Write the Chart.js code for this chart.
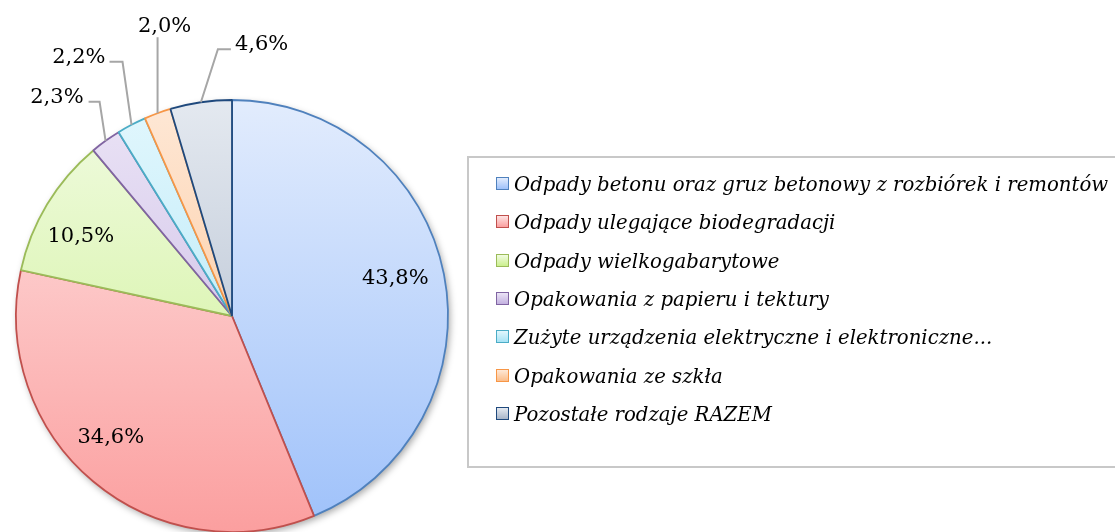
<!DOCTYPE html>
<html>
<head>
<meta charset="utf-8">
<script src="https://cdn.jsdelivr.net/npm/chart.js"></script>
<style>
  html, body { margin: 0; padding: 0; background: #fff; overflow: hidden; }
  #wrap { position: relative; width: 1115px; height: 532px; overflow: hidden; }
  #pie { position: absolute; left: 0; top: 0; }
  #legend {
    position: absolute; left: 467px; top: 156px; width: 680px; height: 312px;
    border: 2px solid #c8c8c8; box-sizing: border-box;
  }
  .item { position: absolute; left: 27px; height: 38px; line-height: 38px; white-space: nowrap;
    font-family: 'DejaVu Serif', serif; font-style: italic; font-size: 19.7px; color: #000; }
  .mark { display: inline-block; width: 11px; height: 11px; border: 1.5px solid; vertical-align: middle;
    margin-right: 5px; position: relative; top: -2px; }
</style>
</head>
<body>
<div id="wrap">
  <canvas id="pie" width="1115" height="560"></canvas>
  <div id="legend"></div>
</div>
<script>
const categories = [
  'Odpady betonu oraz gruz betonowy z rozbiórek i remontów',
  'Odpady ulegające biodegradacji',
  'Odpady wielkogabarytowe',
  'Opakowania z papieru i tektury',
  'Zużyte urządzenia elektryczne i elektroniczne...',
  'Opakowania ze szkła',
  'Pozostałe rodzaje RAZEM'
]
const shares = [43.8, 34.6, 10.5, 2.3, 2.2, 2.0, 4.6]

const edgeColors = ['#4f81bd', '#c0504d', '#9bbb59', '#8064a2', '#4bacc6', '#f79646', '#1f497d']
const fillTop = ['#e2ecfd', '#fee3e3', '#f1fbe2', '#ebe4f6', '#e2f7fd', '#fee8d6', '#e4e9f0']
const fillBottom = ['#9ec1fa', '#fb9f9f', '#cbf08e', '#c3b1e0', '#a6e3f5', '#fbbd8a', '#a8b5c8']

// small nudges for the labels inside the slices (Excel moved them a bit)
const insideNudge = [[-2, -5], [-13, -8], [-7, 8]]
// where the outside labels go, relative to the slice's outer edge
const outsideLabels = [
  null, null, null,
  { elbow: [-6, -39], end: [-17, -39], text: [-22, -43], align: 'right' },
  { elbow: [-9, -63], end: [-22, -63], text: [-26, -67], align: 'right' },
  { elbow: [0, -76], end: null, text: [7, -87], align: 'center' },
  { elbow: [17, -53], end: [30, -53], text: [34, -58], align: 'left' }
]

const pieShadow = {
  id: 'pieShadow',
  beforeDatasetsDraw(chart) {
    const arc = chart.getDatasetMeta(0).data[0]
    if (!arc) return
    const ctx = chart.ctx
    ctx.save()
    ctx.shadowColor = 'rgba(0,0,0,0.35)'
    ctx.shadowBlur = 7
    ctx.shadowOffsetX = 2
    ctx.shadowOffsetY = 3
    ctx.fillStyle = '#fff'
    ctx.beginPath()
    ctx.arc(arc.x, arc.y, arc.outerRadius, 0, Math.PI * 2)
    ctx.fill()
    ctx.restore()
  }
}

const sliceLabels = {
  id: 'sliceLabels',
  afterDatasetsDraw(chart) {
    const ctx = chart.ctx
    const meta = chart.getDatasetMeta(0)
    const values = chart.data.datasets[0].data
    ctx.save()
    ctx.font = '21px "DejaVu Serif", serif'
    ctx.fillStyle = '#000'
    ctx.textBaseline = 'middle'
    meta.data.forEach((arc, i) => {
      const txt = values[i].toFixed(1).replace('.', ',') + '%'
      const mid = (arc.startAngle + arc.endAngle) / 2
      const out = outsideLabels[i]
      if (!out) {
        const r = arc.outerRadius * 0.78
        const n = insideNudge[i] || [0, 0]
        ctx.textAlign = 'center'
        ctx.fillText(txt, arc.x + Math.cos(mid) * r + n[0], arc.y + Math.sin(mid) * r + n[1])
        return
      }
      const sx = arc.x + Math.cos(mid) * arc.outerRadius
      const sy = arc.y + Math.sin(mid) * arc.outerRadius
      ctx.strokeStyle = '#a6a6a6'
      ctx.lineWidth = 2
      ctx.beginPath()
      ctx.moveTo(sx, sy)
      ctx.lineTo(sx + out.elbow[0], sy + out.elbow[1])
      if (out.end) ctx.lineTo(sx + out.end[0], sy + out.end[1])
      ctx.stroke()
      ctx.textAlign = out.align
      ctx.fillText(txt, sx + out.text[0], sy + out.text[1])
    })
    ctx.restore()
  }
}

const chart = new Chart(document.getElementById('pie'), {
  type: 'pie',
  data: {
    labels: categories,
    datasets: [
      {
        data: shares,
        backgroundColor: (c) => {
          const area = c.chart.chartArea
          if (!area) return fillTop[c.dataIndex]
          const g = c.chart.ctx.createLinearGradient(0, area.top, 0, area.bottom)
          g.addColorStop(0, fillTop[c.dataIndex])
          g.addColorStop(1, fillBottom[c.dataIndex])
          return g
        },
        borderColor: edgeColors,
        borderWidth: 1.8,
        radius: 216
      }
    ]
  },
  options: {
    responsive: false,
    animation: false,
    events: [],
    layout: { padding: { left: 16, top: 100, right: 667, bottom: 28 } },
    plugins: {
      legend: { display: false },
      tooltip: { enabled: false }
    }
  },
  plugins: [pieShadow, sliceLabels]
})

const legend = document.getElementById('legend')
categories.forEach((name, i) => {
  const row = document.createElement('div')
  row.className = 'item'
  row.style.top = (8 + i * 38.3) + 'px'
  const mark = document.createElement('span')
  mark.className = 'mark'
  mark.style.borderColor = edgeColors[i]
  mark.style.background = `linear-gradient(${fillTop[i]}, ${fillBottom[i]})`
  row.appendChild(mark)
  row.appendChild(document.createTextNode(name))
  legend.appendChild(row)
})
</script>
</body>
</html>
